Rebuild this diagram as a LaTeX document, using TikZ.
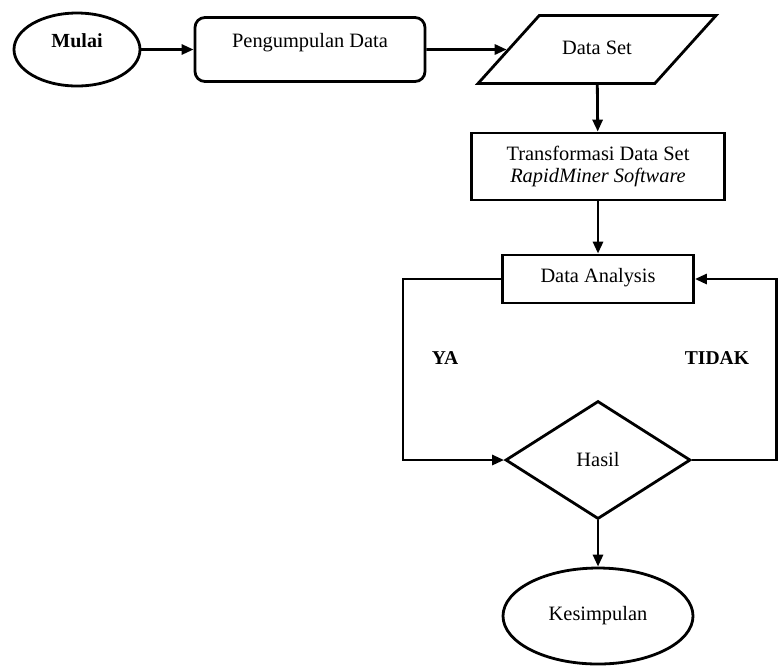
\documentclass[tikz,border=0pt]{standalone}
\usepackage{fontspec}
\setmainfont{Liberation Serif}
\usetikzlibrary{arrows.meta,shapes.geometric}

\begin{document}
\begin{tikzpicture}[x=.5pt,y=-.5pt,
  box/.style={draw,line width=1.4pt,inner sep=0pt,font=\fontsize{10.2}{11}\selectfont},
  uptext/.style={text height=7pt,text depth=9pt},
  flow/.style={line width=1.4pt,-{Triangle[length=6pt,width=5pt]}},
  tag/.style={font=\fontsize{9.8}{11}\selectfont\bfseries}]
  \useasboundingbox (0,0) rectangle (779,666);
  % Top row.
  \node[box,ellipse,uptext,minimum width=63pt,minimum height=36.5pt,
    font=\fontsize{10}{11}\selectfont\bfseries] (mulai) at (77,49.5) {Mulai};
  \node[box,rounded corners=5pt,uptext,minimum width=115pt,minimum height=32pt]
    (kumpul) at (310,49.5) {Pengumpulan Data};
  \node[box,trapezium,trapezium left angle=48,trapezium right angle=132,
    trapezium stretches body,text height=7pt,text depth=2pt,inner ysep=12.5pt,
    minimum width=119pt] (dset) at (597,49.5) {Data Set};
  % Main column.
  \node[box,align=center,minimum width=126.5pt,minimum height=33.5pt]
    (trans) at (598,166.5) {Transformasi Data Set\\\textit{RapidMiner Software}};
  \node[box,text height=7pt,text depth=4pt,minimum width=95.5pt,minimum height=24pt]
    (ana) at (598,279) {Data Analysis};
  \node[box,diamond,minimum width=92.5pt,minimum height=59pt]
    (hasil) at (598,460) {Hasil};
  \node[box,ellipse,minimum width=95pt,minimum height=48pt]
    (kes) at (598,616) {Kesimpulan};
  \node[tag] (ya) at (445,358) {YA};
  \node[tag] (tidak) at (717,358) {TIDAK};
  \coordinate (yaturn) at (403,279);
  \coordinate (tidakturn) at (776.5,279);
  % Connectors.
  \draw[flow] (mulai) -- (kumpul);
  \draw[flow] (kumpul) -- (dset);
  \draw[flow] (dset) -- (trans);
  \draw[flow] (trans) -- (ana);
  \draw[flow] (ana.west) -- (yaturn) |- (hasil.west);
  \draw[flow] (hasil.east) -| (tidakturn) -- (ana.east);
  \draw[flow] (hasil) -- (kes);
\end{tikzpicture}
\end{document}
